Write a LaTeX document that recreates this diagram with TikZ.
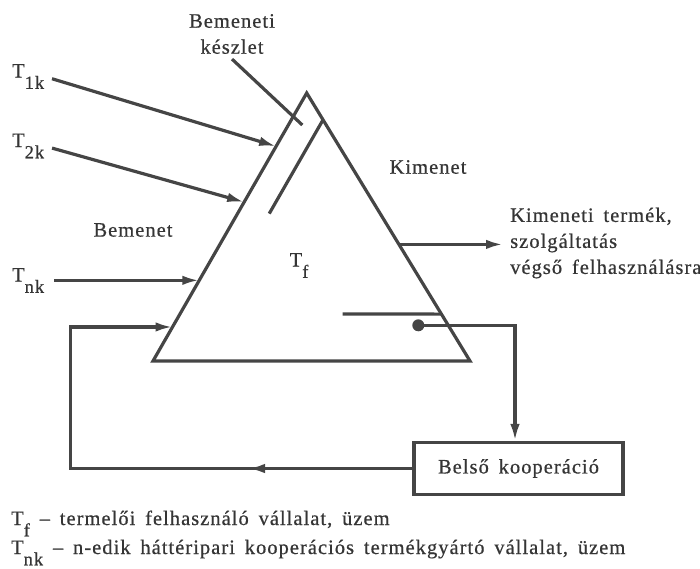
\documentclass[tikz,border=0pt]{standalone}
\usepackage{fontspec}
\setmainfont[LetterSpace=5,WordSpace=1.6,FakeBold=0.6]{Liberation Serif}
\usetikzlibrary{arrows.meta,calc}
\definecolor{ink}{HTML}{454545}
\definecolor{txt}{HTML}{353535}
% lowered, slightly smaller index as used in the labels
\newcommand\lowsub[1]{\raisebox{-0.55em}{\fontsize{18.5}{18.5}\selectfont #1}}
\begin{document}
\begin{tikzpicture}[x=1pt,y=-1pt,
  line/.style={draw=ink,line width=3.2pt},
  tip/.style={-{Latex[length=17pt,width=9.5pt]}},
  lbl/.style={text=txt,inner sep=0pt,font=\fontsize{20.5}{26}\selectfont},
  coopbox/.style={draw=ink,line width=3.2pt,text=txt,font=\fontsize{20.5}{26}\selectfont,
    minimum width=209pt,minimum height=52pt,inner sep=0pt},
  dotnode/.style={circle,fill=ink,inner sep=0pt,minimum size=12pt}
]
\useasboundingbox (0,0) rectangle (700,568);

% the producing firm as a triangle
\coordinate (apex) at (306.7,93);
\coordinate (bl) at (153,361);
\coordinate (br) at (470,361);
\draw[line] (apex) -- (bl) -- (br) -- cycle;

% points on the input (left) side
\coordinate (in1) at ($(apex)!0.199!(bl)$);
\coordinate (in2) at ($(apex)!0.407!(bl)$);
\coordinate (in3) at ($(apex)!0.699!(bl)$);
\coordinate (in4) at ($(apex)!0.873!(bl)$);
% points on the output (right) side
\coordinate (st1) at ($(apex)!0.10!(br)$);
\coordinate (st2) at ($(st1)+0.35*(bl)-0.35*(apex)$);
\coordinate (out) at ($(apex)!0.565!(br)$);
\coordinate (inner) at ($(apex)!0.825!(br)$);
\coordinate (innerstart) at (342.7,314);

% inner stock line parallel to the input side
\draw[line] (st1) -- (st2);
% internal level line
\draw[line] (innerstart) -- (inner);

% labels
\node[lbl,align=center] (bk) at (232,34) {Bemeneti\\készlet};
\coordinate (bkend) at (302.3,125);
\draw[line] ($(bk.south)+(0,5)$) -- (bkend);

\node[lbl,anchor=base west] (t1) at (12,77.5) {T\lowsub{1k}};
\node[lbl,anchor=base west] (t2) at (12,147) {T\lowsub{2k}};
\node[lbl,anchor=base west] (tn) at (12,281.5) {T\lowsub{nk}};
\node[lbl] (bem) at (133,230) {Bemenet};
\node[lbl,anchor=base west] (tf) at (289.5,266.5) {T\lowsub{f}};
\node[lbl] (kim) at (428,167) {Kimenet};
\node[lbl,align=left,anchor=west] (prod) at (510,243)
  {Kimeneti termék,\\szolgáltatás\\végső felhasználásra};

% inputs
\draw[line,tip,shorten <=8pt] (t1.east) -- (in1);
\draw[line,tip,shorten <=8pt] (t2.east) -- (in2);
\draw[line,tip,shorten <=10pt] (tn.east |- in3) -- (in3);

% output
\draw[line,tip,shorten >=7pt] (out) -- (out -| prod.west);

% internal cooperation loop
\node[coopbox] (coop) at (518.5,468.5) {Belső kooperáció};
\node[dotnode] (dot) at (418.3,325.3) {};
\coordinate (turn) at (515,325.3);
\draw[line,tip] (dot.center) -- (turn) -- (turn |- coop.north);
\coordinate (fbmid) at (248,468.5);
\coordinate (fbl) at (70.5,468.5);
\draw[line,tip] (coop.west) -- (fbl) |- (in4);
% direction mark half-way along the return line
\draw[line,tip] (coop.west) -- (fbmid);

% legend
\node[lbl,anchor=base west] (leg1) at (11,525)
  {T\lowsub{f} – termelői felhasználó vállalat, üzem};
\node[lbl,anchor=base west] (leg2) at (11,554)
  {T\lowsub{nk} – n-edik háttéripari kooperációs termékgyártó vállalat, üzem};
\end{tikzpicture}
\end{document}
